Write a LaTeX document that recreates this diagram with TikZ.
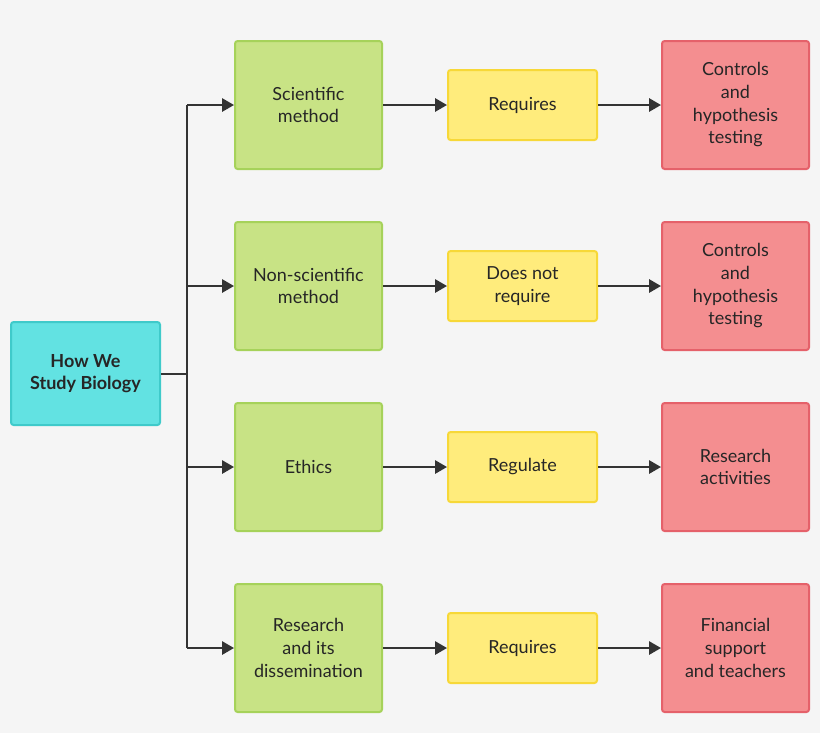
\documentclass[tikz,border=0pt]{standalone}
\usepackage{fontspec}
\setmainfont{Lato}
\usetikzlibrary{arrows.meta}
\definecolor{bg}{HTML}{F5F5F5}
\definecolor{rootfill}{HTML}{62E2E2}
\definecolor{rootline}{HTML}{3FCACA}
\definecolor{greenfill}{HTML}{C8E385}
\definecolor{greenline}{HTML}{A6D25A}
\definecolor{yellowfill}{HTML}{FFEC7C}
\definecolor{yellowline}{HTML}{F7D838}
\definecolor{redfill}{HTML}{F48E90}
\definecolor{redline}{HTML}{E5616A}
\definecolor{arrowgray}{HTML}{333333}
\tikzset{
  box/.style={draw, line width=1.5pt, rounded corners=2pt, align=center, inner sep=0pt,
    font=\fontsize{13.5}{17}\selectfont, text=black!85},
  rootbox/.style={box, fill=rootfill, draw=rootline, minimum width=111.75pt, minimum height=77.25pt, font=\fontsize{13.5}{17}\selectfont\bfseries},
  method/.style={box, fill=greenfill, draw=greenline, minimum width=110.25pt, minimum height=96pt},
  verb/.style={box, fill=yellowfill, draw=yellowline, minimum width=111.75pt, minimum height=52.5pt},
  result/.style={box, fill=redfill, draw=redline, minimum width=110.25pt, minimum height=96pt},
  link/.style={draw=arrowgray, line width=1.5pt, -{Triangle[length=9pt,width=10pt]}}
}
\begin{document}
\begin{tikzpicture}[x=0.75pt,y=-0.75pt]
\fill[bg] (0,0) rectangle (820,733);
\node[rootbox] (root) at (85.5,373.5) {How We\\Study Biology};
\coordinate (trunk) at (187,373.5);
\foreach \i/\y/\m/\v/\r in {1/105/Scientific\\method/Requires/Controls\\and\\hypothesis\\testing,
  2/286/Non-scientific\\method/Does not\\require/Controls\\and\\hypothesis\\testing,
  3/467/Ethics/Regulate/Research\\activities,
  4/648/Research\\and its\\dissemination/Requires/Financial\\support\\and teachers} {
  \node[method] (method\i) at (308.5,\y) {\m};
  \node[verb] (verb\i) at (522.5,\y) {\v};
  \node[result] (result\i) at (735.5,\y) {\r};
  \coordinate (branch\i) at (187,\y);
  \draw[link] (branch\i) -- (method\i);
  \draw[link] (method\i) -- (verb\i);
  \draw[link] (verb\i) -- (result\i);
}
\draw[arrowgray, line width=1.5pt] (root) -- (trunk);
\draw[arrowgray, line width=1.5pt] (branch1) -- (branch4);
\end{tikzpicture}
\end{document}
